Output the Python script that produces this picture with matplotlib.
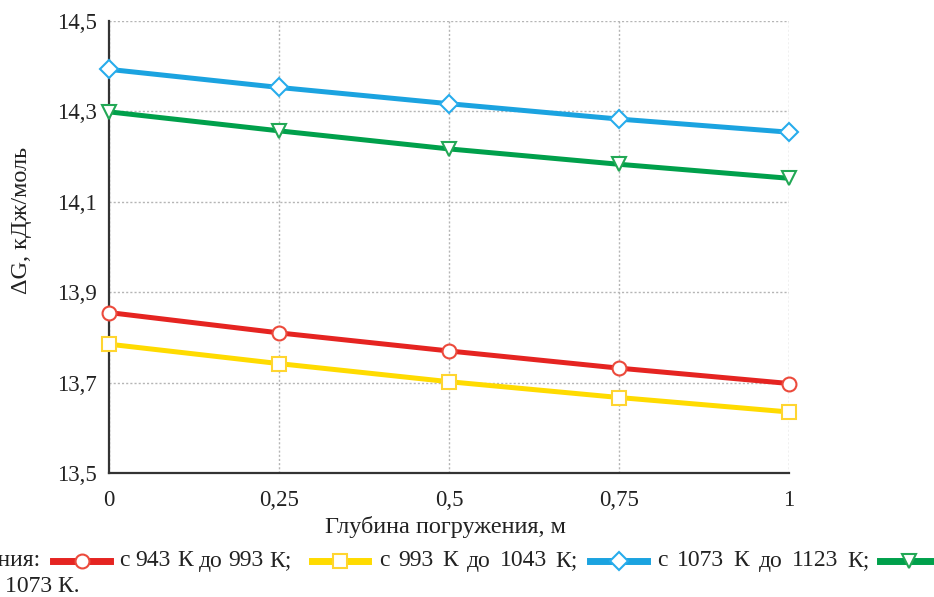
import matplotlib
matplotlib.use("Agg")
import matplotlib.pyplot as plt
from matplotlib.lines import Line2D
from matplotlib.ticker import FuncFormatter

plt.rcParams['font.family'] = ['Liberation Serif', 'DejaVu Serif']

# ---- data ----
depth = [0, 0.25, 0.5, 0.75, 1]
dG_943_993 = [13.855, 13.810, 13.770, 13.732, 13.698]
dG_993_1043 = [13.785, 13.742, 13.702, 13.667, 13.635]
dG_1073_1123 = [14.393, 14.353, 14.317, 14.283, 14.254]
dG_1023_1073 = [14.299, 14.257, 14.217, 14.183, 14.152]

x_ticks = [0, 0.25, 0.5, 0.75, 1]
y_ticks = [13.5, 13.7, 13.9, 14.1, 14.3, 14.5]

labels = ["с 943 К до 993 К;", "с 993 К до 1043 К;", "с 1073 К до 1123 К;", "с 1023 К до 1073 К."]
legend_title = "Обозначения:"
x_label = "Глубина погружения, м"
y_label = "ΔG, кДж/моль"

series = [dG_943_993, dG_993_1043, dG_1073_1123, dG_1023_1073]
colors = ['#E52421', '#FFDB00', '#1BA3E0', '#00A04B']
edge_colors = ['#EC4A3C', '#FFD530', '#27ACEC', '#22A855']
markers = ['o', 's', 'D', 'v']
msizes = [10, 10, 9, 10]

W, H = 934, 597
TXT = '#222222'
fig = plt.figure(figsize=(W / 100, H / 100), dpi=100)
ax = fig.add_axes([109 / W, (H - 473) / H, 680 / W, 452 / H])

for vals, c, ec, m, ms in zip(series, colors, edge_colors, markers, msizes):
    ax.plot(depth, vals, color=c, lw=3.6, marker=m, ms=ms, mfc='white',
            mec=ec, mew=1.5, zorder=3, clip_on=False)

ax.set_xlim(0, 1)
ax.set_ylim(13.5, 14.5)
ax.set_xticks(x_ticks)
ax.set_yticks(y_ticks)

def comma_fmt(v, pos):
    s = f"{v:.2f}".rstrip('0').rstrip('.')
    return s.replace('.', ',')

ax.xaxis.set_major_formatter(FuncFormatter(comma_fmt))
ax.yaxis.set_major_formatter(FuncFormatter(lambda v, p: f"{v:.1f}".replace('.', ',')))
ax.tick_params(axis='both', length=0, labelsize=16.5, colors=TXT)
ax.tick_params(axis='y', pad=9)
ax.tick_params(axis='x', pad=12)

ax.grid(True, linestyle=(0, (1.5, 1.5)), color='#B5B5B5', lw=1)
for s in ['top', 'right']:
    ax.spines[s].set_visible(False)
for s in ['left', 'bottom']:
    ax.spines[s].set_color('#333333')
    ax.spines[s].set_linewidth(1.6)

# axis labels
fig.text(445 / W, 1 - 527 / H, x_label, ha='center', va='center', fontsize=17.5, color=TXT)
fig.text(22 / W, 1 - 220 / H, y_label, ha='center', va='center', rotation=90,
         fontsize=17.5, color=TXT)

# legend line (cropped like the reference), justified words
FS = 17
renderer = fig.canvas.get_renderer()

def justified(text, x0, x1, y):
    words = text.split(" ")
    arts = [fig.text(0, y, w, ha='left', va='center', fontsize=FS, color=TXT) for w in words]
    widths = [a.get_window_extent(renderer).width for a in arts]
    gap = (x1 - x0 - sum(widths)) / max(len(words) - 1, 1)
    x = x0
    for a, w in zip(arts, widths):
        a.set_x(x / W)
        x += w + gap

ty = 1 - 561 / H
fig.text(40 / W, ty, legend_title, ha='right', va='center', fontsize=FS, color=TXT)
sym_x = [(53, 110), (312, 368), (590, 647), (880, 937)]
text_span = [(119, 292), (379, 578), (657, 870)]
for i in range(4):
    x0, x1 = sym_x[i]
    xm = (x0 + x1) / 2
    line = Line2D([x0 / W, xm / W, x1 / W], [ty, ty, ty], transform=fig.transFigure,
                  color=colors[i], lw=5, marker=markers[i], markevery=[1],
                  ms=msizes[i], mfc='white', mec=edge_colors[i], mew=1.5)
    fig.add_artist(line)
for i in range(3):
    justified(labels[i], text_span[i][0], text_span[i][1], ty)
# last label wraps onto the second line; only its end is visible
head, tail = labels[3].rsplit("до ", 1)
fig.text(-4 / W, 1 - 587 / H, head + "до", ha='right', va='center', fontsize=FS, color=TXT)
fig.text(5 / W, 1 - 587 / H, tail, ha='left', va='center', fontsize=FS, color=TXT)

fig.savefig("out.png", dpi=100)
